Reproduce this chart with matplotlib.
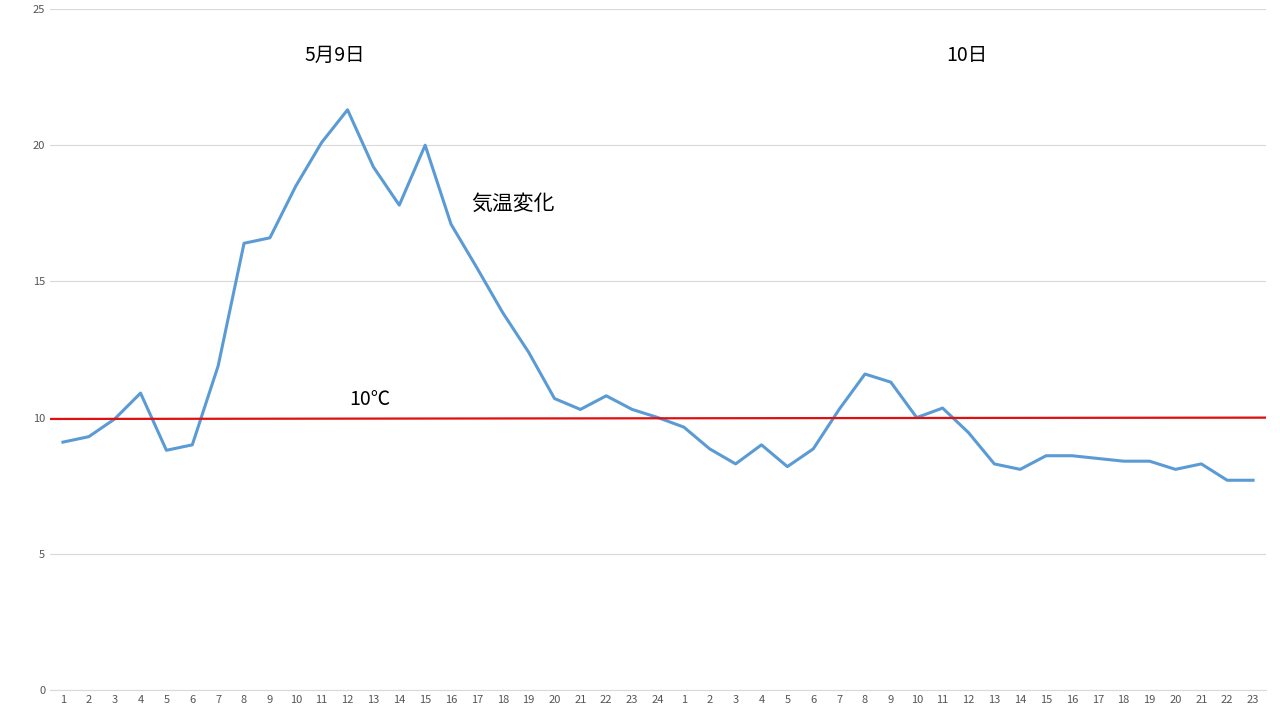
import matplotlib
matplotlib.use("Agg")
import matplotlib.pyplot as plt

plt.rcParams['font.family'] = ['Noto Sans CJK JP', 'DejaVu Sans']

hours = [str(h) for h in range(1, 25)] + [str(h) for h in range(1, 24)]
temps = [9.1, 9.3, 9.95, 10.9, 8.8, 9.0, 11.9, 16.4, 16.6, 18.5, 20.1, 21.3,
         19.2, 17.8, 20.0, 17.1, 15.5, 13.85, 12.4, 10.7, 10.3, 10.8, 10.3, 10.0,
         9.65, 8.85, 8.3, 9.0, 8.2, 8.85, 10.3, 11.6, 11.3, 10.0, 10.35, 9.45,
         8.3, 8.1, 8.6, 8.6, 8.5, 8.4, 8.4, 8.1, 8.3, 7.7, 7.7]
ref_line = [9.95, 10.0]
yticks = [0, 5, 10, 15, 20, 25]

fig = plt.figure(figsize=(12.8, 7.2), dpi=100)
ax = fig.add_axes([50/1280, 30/720, 1216/1280, 681/720])
x = list(range(len(temps)))
ax.plot(x, temps, color='#5b9bd5', lw=2.2)
ax.plot([-0.5, len(temps) - 0.5], ref_line, color='#e01010', lw=1.6)
ax.set_xlim(-0.5, len(temps) - 0.5)
ax.set_ylim(0, 25)
ax.set_yticks(yticks)
ax.set_xticks(x)
ax.set_xticklabels(hours)
ax.tick_params(length=0, labelsize=8, colors='#555555')
ax.grid(axis='y', color='#d9d9d9', lw=0.8)
ax.set_axisbelow(True)
for s in ['top', 'right', 'left']:
    ax.spines[s].set_visible(False)
ax.spines['bottom'].set_color('#d9d9d9')

ax.text(10.5, 23.3, '5月9日', fontsize=14, ha='center', va='center')
ax.text(34.95, 23.3, '10日', fontsize=14, ha='center', va='center')
ax.text(17.4, 17.85, '気温変化', fontsize=15, ha='center', va='center')
ax.text(11.85, 10.65, '10℃', fontsize=14, ha='center', va='center')

fig.savefig('out.png')
